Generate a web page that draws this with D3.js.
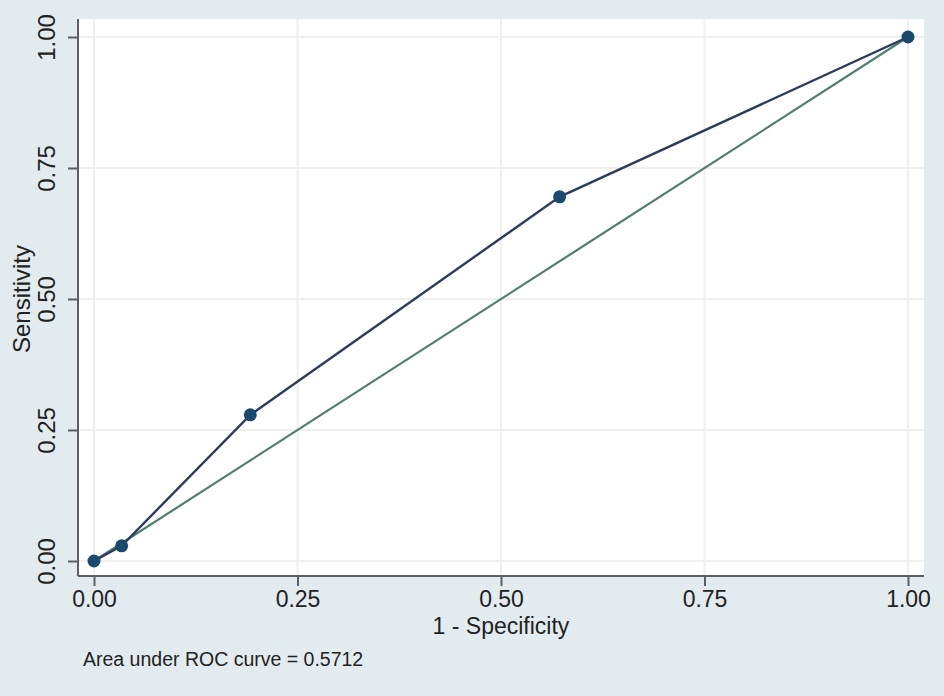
<!DOCTYPE html>
<html>
<head>
<meta charset="utf-8">
<script src="https://cdnjs.cloudflare.com/ajax/libs/d3/7.8.5/d3.min.js"></script>
<style>
    html, body { margin: 0; padding: 0; background: #e2ecef; }
    svg { display: block; font-family: "Liberation Sans", Arial, sans-serif; }
</style>
</head>
<body>
<div id="chart"></div>
<script>
// ROC points (1 - specificity, sensitivity)
var specComp = [0, 0.034, 0.192, 0.572, 1];
var sensitivity = [0, 0.029, 0.279, 0.695, 1];
var tickValues = [0, 0.25, 0.5, 0.75, 1];
var tickLabels = ['0.00', '0.25', '0.50', '0.75', '1.00'];
var refLine = [0, 1];
var aucText = 'Area under ROC curve = 0.5712';

var width = 944, height = 696;
var plot = {left: 78, right: 924, top: 19, bottom: 576};

var x = d3.scaleLinear().domain([0, 1]).range([94, 908]);
var y = d3.scaleLinear().domain([0, 1]).range([561, 37]);

var svg = d3.select('#chart').append('svg')
    .attr('width', width)
    .attr('height', height);

svg.append('rect')
    .attr('width', width).attr('height', height)
    .attr('fill', '#e2ecef');

svg.append('rect')
    .attr('x', plot.left).attr('y', plot.top)
    .attr('width', plot.right - plot.left)
    .attr('height', plot.bottom - plot.top)
    .attr('fill', '#ffffff');

// grid
var grid = svg.append('g').attr('stroke', '#efefef').attr('stroke-width', 2);
grid.selectAll('.gx').data(tickValues).enter().append('line')
    .attr('x1', function (d) { return x(d); })
    .attr('x2', function (d) { return x(d); })
    .attr('y1', plot.top).attr('y2', plot.bottom);
grid.selectAll('.gy').data(tickValues).enter().append('line')
    .attr('y1', function (d) { return y(d); })
    .attr('y2', function (d) { return y(d); })
    .attr('x1', plot.left).attr('x2', plot.right);

// reference line
svg.append('line')
    .attr('x1', x(refLine[0])).attr('y1', y(refLine[0]))
    .attr('x2', x(refLine[1])).attr('y2', y(refLine[1]))
    .attr('stroke', '#4f7d72')
    .attr('stroke-width', 2.2);

var pts = specComp.map(function (d, i) { return [d, sensitivity[i]]; });

var line = d3.line()
    .x(function (d) { return x(d[0]); })
    .y(function (d) { return y(d[1]); });

svg.append('path')
    .datum(pts)
    .attr('d', line)
    .attr('fill', 'none')
    .attr('stroke', '#2e3c5c')
    .attr('stroke-width', 2.4);

svg.selectAll('.pt')
    .data(pts)
    .enter().append('circle')
    .attr('cx', function (d) { return x(d[0]); })
    .attr('cy', function (d) { return y(d[1]); })
    .attr('r', 6.5)
    .attr('fill', '#1c4a6e');

// axes
var xAxis = d3.axisBottom(x).tickValues(tickValues)
    .tickFormat(function (d, i) { return tickLabels[i]; })
    .tickSize(10).tickSizeOuter(0).tickPadding(5);
var yAxis = d3.axisLeft(y).tickValues(tickValues)
    .tickFormat(function (d, i) { return tickLabels[i]; })
    .tickSize(10).tickSizeOuter(0);

var gx = svg.append('g')
    .attr('transform', 'translate(0,' + plot.bottom + ')')
    .call(xAxis);
gx.select('.domain').attr('d', 'M' + plot.left + ',0H' + plot.right);

var gy = svg.append('g')
    .attr('transform', 'translate(' + plot.left + ',0)')
    .call(yAxis);
gy.select('.domain').attr('d', 'M0,' + plot.top + 'V' + plot.bottom);

svg.selectAll('.domain, .tick line')
    .attr('stroke', '#5a5f66')
    .attr('stroke-width', 2);

gx.selectAll('text')
    .attr('font-size', 23)
    .attr('fill', '#222');

gy.selectAll('.tick text')
    .attr('font-size', 24)
    .attr('fill', '#222')
    .attr('text-anchor', 'middle')
    .attr('x', 0)
    .attr('y', 0)
    .attr('dy', 0)
    .attr('transform', 'translate(-23,0) rotate(-90)');

// titles
svg.append('text')
    .attr('x', (plot.left + plot.right) / 2)
    .attr('y', 634)
    .attr('text-anchor', 'middle')
    .attr('font-size', 23)
    .attr('fill', '#222')
    .text('1 - Specificity');

svg.append('text')
    .attr('transform', 'translate(30,' + y(0.5) + ') rotate(-90)')
    .attr('text-anchor', 'middle')
    .attr('font-size', 24)
    .attr('fill', '#222')
    .text('Sensitivity');

svg.append('text')
    .attr('x', 83)
    .attr('y', 666)
    .attr('font-size', 19.5)
    .attr('fill', '#222')
    .text(aucText);
</script>
</body>
</html>
